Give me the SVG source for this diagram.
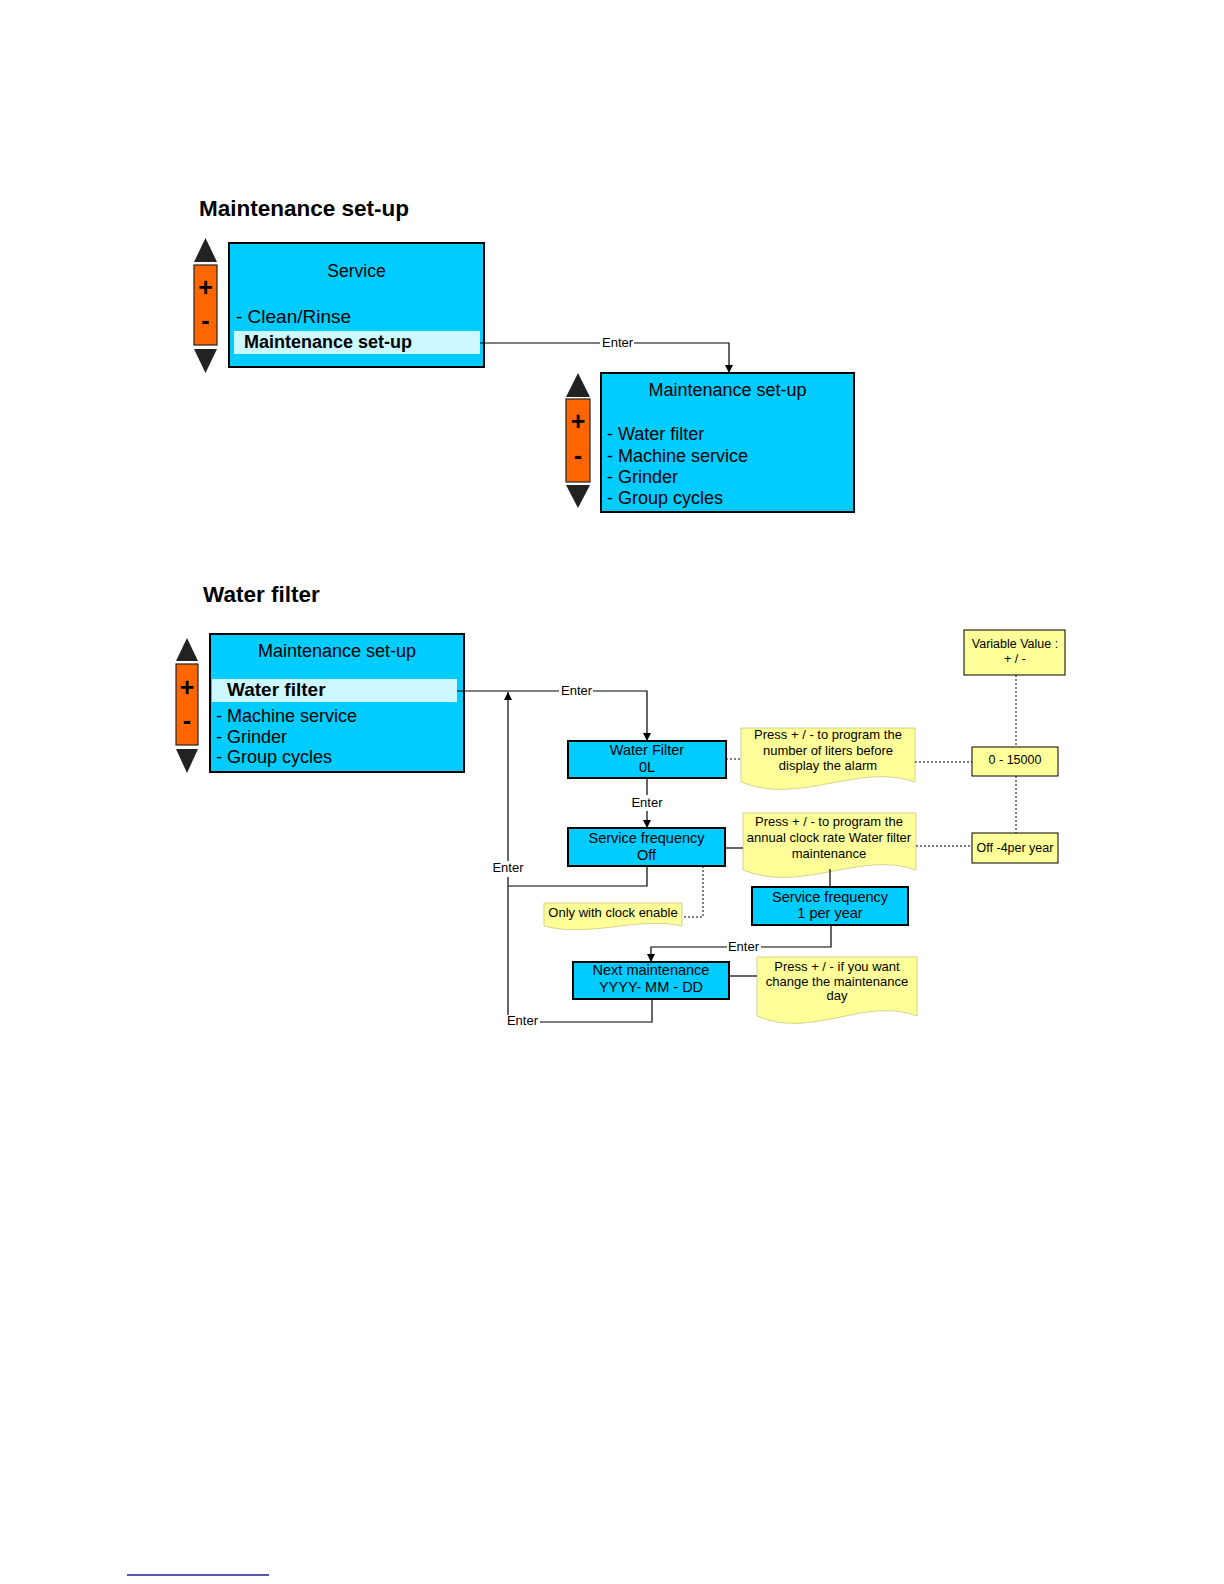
<svg xmlns="http://www.w3.org/2000/svg" width="1224" height="1584" viewBox="0 0 1224 1584">
<style>
text{font-family:"Liberation Sans",Arial,sans-serif;fill:#000}
.title{font-size:22.5px;font-weight:bold}
.scr{fill:#00ccff;stroke:#000;stroke-width:2}
.hl{fill:#ccf9ff}
.m18{font-size:18px}
.b{font-weight:bold}
.tri{fill:#222}
.org{fill:#ff6600;stroke:#222;stroke-width:1.2}
.pm{font-size:25px;font-weight:bold;text-anchor:middle}
.box{fill:#00ccff;stroke:#000;stroke-width:2}
.bt{font-size:14.5px;text-anchor:middle}
.note{fill:#ffff99;stroke:#c9c97a;stroke-width:0.8}
.nt{font-size:13px;text-anchor:middle}
.val{fill:#ffff99;stroke:#000;stroke-width:1}
.vt{font-size:12.5px;text-anchor:middle}
.ln{fill:none;stroke:#000;stroke-width:1.2}
.dot{fill:none;stroke:#000;stroke-width:1;stroke-dasharray:2,2}
.lab{font-size:13px}
</style>
<defs>
<marker id="ah" viewBox="0 0 10 10" refX="10" refY="5" markerWidth="8" markerHeight="8" markerUnits="userSpaceOnUse" orient="auto">
<path d="M0,0 L10,5 L0,10 Z" fill="#000"/>
</marker>
</defs>

<text class="title" x="199" y="216">Maintenance set-up</text>
<text class="title" x="203" y="602">Water filter</text>

<g id="keys1">
<path class="tri" d="M205.5,238 L217,262 L194,262 Z"/>
<rect class="org" x="194" y="265" width="23" height="80"/>
<text class="pm" x="205.5" y="295.5">+</text>
<text class="pm" x="205.5" y="329">-</text>
<path class="tri" d="M194,349 L217,349 L205.5,373 Z"/>
</g>
<g id="screen-service">
<rect class="scr" x="229" y="243" width="255" height="124"/>
<text x="356.5" y="277" style="font-size:17.5px;text-anchor:middle">Service</text>
<text x="236" y="323" style="font-size:19px">- Clean/Rinse</text>
<rect class="hl" x="234" y="331" width="246" height="23"/>
<text class="m18 b" x="244" y="348">Maintenance set-up</text>
</g>

<g id="keys2">
<path class="tri" d="M578,373 L590,397 L566,397 Z"/>
<rect class="org" x="566" y="399" width="24" height="83"/>
<text class="pm" x="578" y="429.5">+</text>
<text class="pm" x="578" y="464">-</text>
<path class="tri" d="M566,485 L590,485 L578,508 Z"/>
</g>
<g id="screen-maint1">
<rect class="scr" x="601" y="373" width="253" height="139"/>
<text class="m18" x="727.5" y="396" text-anchor="middle">Maintenance set-up</text>
<text class="m18" x="607" y="440">- Water filter</text>
<text class="m18" x="607" y="462">- Machine service</text>
<text class="m18" x="607" y="483">- Grinder</text>
<text class="m18" x="607" y="504">- Group cycles</text>
</g>

<g id="keys3">
<path class="tri" d="M187,638 L198,661 L176,661 Z"/>
<rect class="org" x="176" y="664" width="22" height="81"/>
<text class="pm" x="187" y="695.5">+</text>
<text class="pm" x="187" y="729">-</text>
<path class="tri" d="M176,749 L198,749 L187,773 Z"/>
</g>
<g id="screen-maint2">
<rect class="scr" x="210" y="634" width="254" height="138"/>
<text class="m18" x="337" y="657" text-anchor="middle">Maintenance set-up</text>
<rect class="hl" x="212" y="679" width="245" height="23"/>
<text x="227" y="696" style="font-size:19px;font-weight:bold">Water filter</text>
<text class="m18" x="216" y="722">- Machine service</text>
<text class="m18" x="216" y="743">- Grinder</text>
<text class="m18" x="216" y="763">- Group cycles</text>
</g>

<g id="water-filter-0l">
<rect class="box" x="568" y="741" width="158" height="37"/>
<text class="bt" x="647" y="755">Water Filter</text>
<text class="bt" x="647" y="772">0L</text>
</g>
<g id="service-frequency-off">
<rect class="box" x="568" y="828" width="157" height="38"/>
<text class="bt" x="646.5" y="843">Service frequency</text>
<text class="bt" x="646.5" y="860">Off</text>
</g>
<g id="service-frequency-1">
<rect class="box" x="752" y="887" width="156" height="38"/>
<text class="bt" x="830" y="902">Service frequency</text>
<text class="bt" x="830" y="918">1 per year</text>
</g>
<g id="next-maintenance">
<rect class="box" x="573" y="962" width="156" height="37"/>
<text class="bt" x="651" y="975">Next maintenance</text>
<text class="bt" x="651" y="992">YYYY- MM - DD</text>
</g>

<g id="note-liters">
<path class="note" d="M741,728 H915 V782 C859,762 800,806 741,782 Z"/>
<text class="nt" x="828" y="739">Press + / - to program the</text>
<text class="nt" x="828" y="755">number of liters before</text>
<text class="nt" x="828" y="770">display the alarm</text>
</g>
<g id="note-annual">
<path class="note" d="M743,813 H916 V870 C861,850 802,894 743,870 Z"/>
<text class="nt" x="829" y="826">Press + / - to program the</text>
<text class="nt" x="829" y="842">annual clock rate Water filter</text>
<text class="nt" x="829" y="858">maintenance</text>
</g>
<g id="note-clock">
<path class="note" d="M544,903 H682 V926 C638,916 591,938 544,926 Z"/>
<text class="nt" x="613" y="917">Only with clock enable</text>
</g>
<g id="note-day">
<path class="note" d="M757,957 H917 V1016 C866,996 811,1040 757,1016 Z"/>
<text class="nt" x="837" y="971">Press + / - if you want</text>
<text class="nt" x="837" y="986">change the  maintenance</text>
<text class="nt" x="837" y="1000">day</text>
</g>

<g id="variable-value">
<rect class="val" x="964" y="630" width="101" height="45"/>
<text class="vt" x="1015" y="648">Variable Value :</text>
<text class="vt" x="1015" y="663">+ / -</text>
</g>
<g id="range-liters">
<rect class="val" x="972" y="747" width="86" height="29"/>
<text class="vt" x="1015" y="764">0 - 15000</text>
</g>
<g id="range-freq">
<rect class="val" x="972" y="833" width="86" height="30"/>
<text class="vt" x="1015" y="852">Off -4per year</text>
</g>

<g id="connectors">
<path class="ln" d="M480,343 H600"/>
<text class="lab" x="602" y="347">Enter</text>
<path class="ln" d="M634,343 H729 V373" marker-end="url(#ah)"/>

<path class="ln" d="M457,691 H559"/>
<text class="lab" x="561" y="695">Enter</text>
<path class="ln" d="M593,691 H647 V741" marker-end="url(#ah)"/>

<path class="ln" d="M647,778 V795"/>
<text class="lab" x="647" y="807" text-anchor="middle">Enter</text>
<path class="ln" d="M647,811 V828" marker-end="url(#ah)"/>

<path class="ln" d="M647,866 V886 H508"/>
<path class="ln" d="M508,861 V692" marker-end="url(#ah)"/>
<text class="lab" x="508" y="872" text-anchor="middle">Enter</text>
<path class="ln" d="M508,877 V1015"/>

<path class="ln" d="M652,999 V1022 H540"/>
<text class="lab" x="538" y="1025" text-anchor="end">Enter</text>

<path class="dot" d="M703,866 V917 H682"/>

<path class="ln" d="M831,925 V947 H761"/>
<text class="lab" x="759" y="951" text-anchor="end">Enter</text>
<path class="ln" d="M727,947 H651 V962" marker-end="url(#ah)"/>

<path class="ln" d="M725,848 H743"/>
<path class="ln" d="M830,869 V887"/>
<path class="ln" d="M729,976 H757"/>

<path class="dot" d="M726,759 H741"/>
<path class="dot" d="M915,762 H972"/>
<path class="dot" d="M916,846 H972"/>
<path class="dot" d="M1016,675 V747"/>
<path class="dot" d="M1016,776 V833"/>
</g>

<line x1="127" y1="1575" x2="269" y2="1575" stroke="#1f1f8f" stroke-width="1.5"/>
</svg>
